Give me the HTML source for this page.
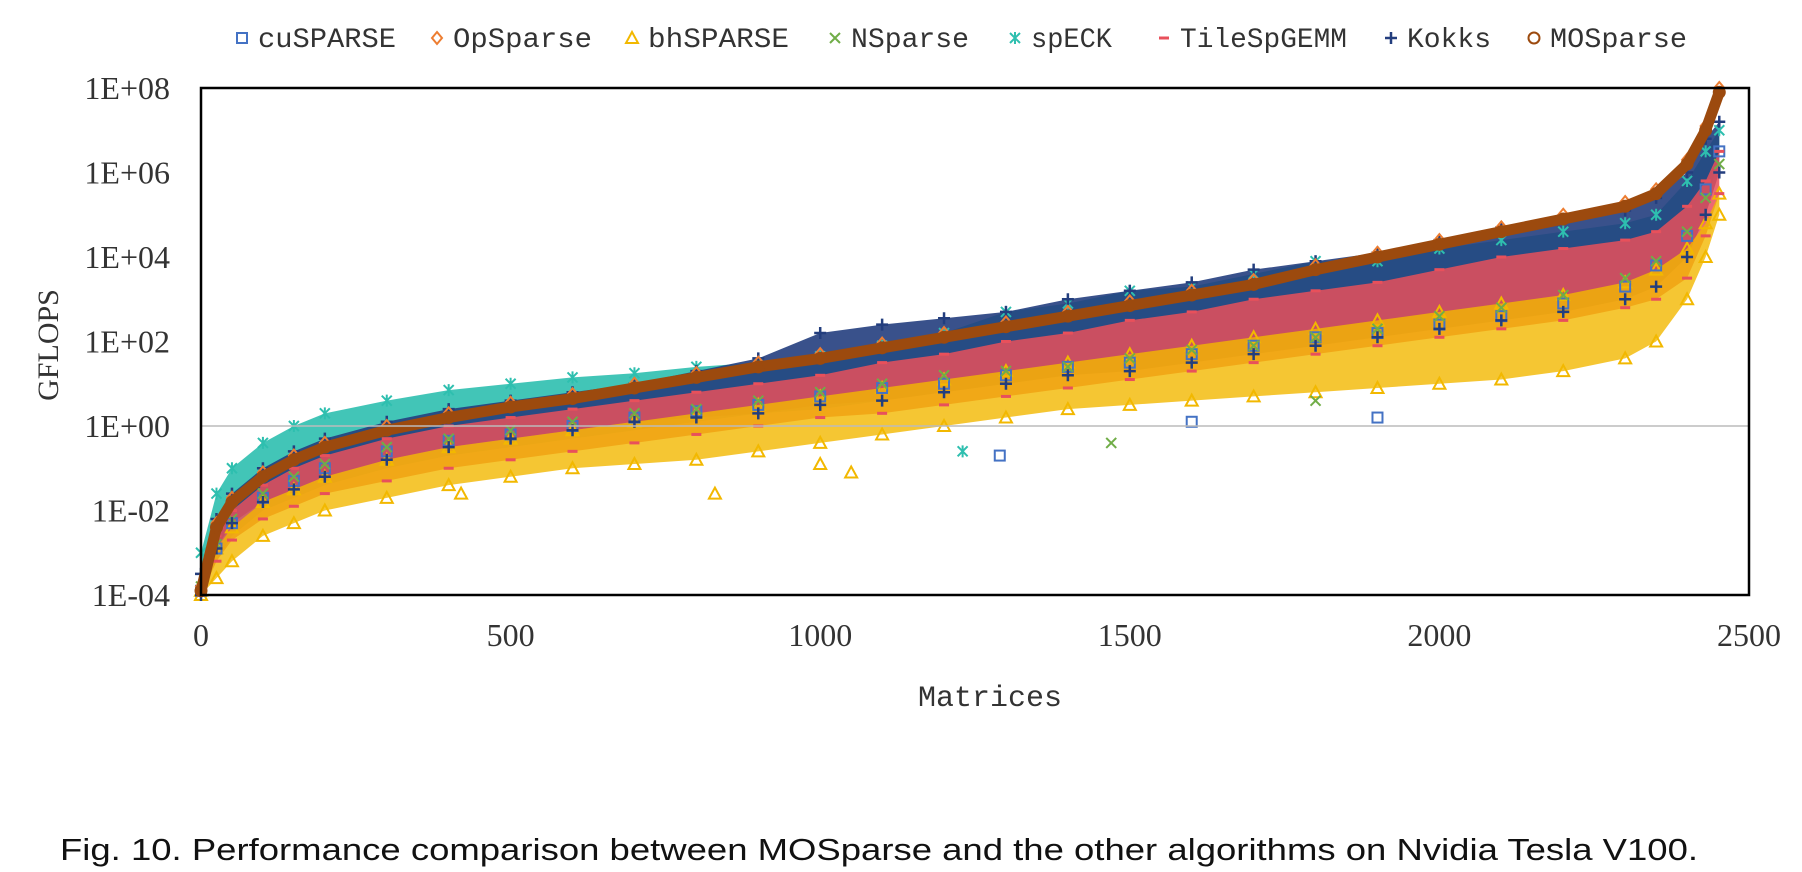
<!DOCTYPE html>
<html><head><meta charset="utf-8"><style>
html,body{margin:0;padding:0;background:#fff;width:1802px;height:872px;overflow:hidden}
svg{display:block}
</style></head><body>
<svg id="chart" width="1802" height="872" viewBox="0 0 1802 872" xmlns="http://www.w3.org/2000/svg">
<g id="bands"></g>
<g id="marks"></g>
<g id="axes"></g>
<g id="legend"></g>
<text x="990" y="706" text-anchor="middle" font-family="Liberation Mono, monospace" font-size="30" fill="#333">Matrices</text>
<text transform="translate(58,345) rotate(-90)" text-anchor="middle" font-family="Liberation Serif, serif" font-size="30" fill="#333">GFLOPS</text>
<text x="60" y="860" textLength="1638" lengthAdjust="spacingAndGlyphs" font-family="Liberation Sans, sans-serif" font-size="31" fill="#111">Fig. 10.  Performance comparison between MOSparse and the other algorithms on Nvidia Tesla V100.</text>
</svg>
<script>
// ---- data (log10 GFLOPS) ----
const xIdx = [0,25,50,100,150,200,300,400,500,600,700,800,900,1000,1100,1200,1300,1400,1500,1600,1700,1800,1900,2000,2100,2200,2300,2350,2400,2430,2452];
const mosparse = [-3.9,-2.4,-1.8,-1.2,-0.8,-0.5,-0.1,0.2,0.45,0.65,0.9,1.15,1.4,1.6,1.85,2.1,2.35,2.6,2.85,3.1,3.35,3.7,4.0,4.3,4.6,4.9,5.2,5.5,6.2,7.0,7.9];
const speckHi = [-3.0,-1.6,-1.0,-0.4,0.0,0.3,0.6,0.85,1.0,1.15,1.25,1.4,1.5,1.65,1.9,2.2,2.7,2.9,3.2,3.3,3.6,3.9,3.9,4.2,4.4,4.6,4.8,5.0,5.8,6.5,7.0];
const speckLo = [-4,-3.2,-2.6,-2.0,-1.7,-1.4,-1.0,-0.7,-0.5,-0.3,-0.1,0.1,0.3,0.4,0.6,0.8,1.0,1.2,1.4,1.6,1.8,2.0,2.2,2.3,2.5,2.7,3.0,3.3,4.0,5.0,6.5];
const kokkosHi = [-3.5,-2.2,-1.6,-1.0,-0.6,-0.3,0.1,0.4,0.6,0.8,1.0,1.3,1.6,2.2,2.4,2.55,2.7,3.0,3.2,3.4,3.7,3.9,4.1,4.4,4.7,4.9,5.1,5.4,6.0,6.8,7.2];
const kokkosLo = [-4,-2.9,-2.3,-1.8,-1.5,-1.2,-0.8,-0.5,-0.3,-0.1,0.1,0.2,0.3,0.5,0.6,0.8,1.0,1.2,1.3,1.5,1.7,1.9,2.1,2.3,2.5,2.7,3.0,3.3,4.0,5.0,6.0];
const tileHi = [-3.8,-2.6,-2.0,-1.4,-1.0,-0.7,-0.3,0.0,0.2,0.4,0.6,0.8,1.0,1.2,1.5,1.7,2.0,2.2,2.5,2.7,3.0,3.2,3.4,3.7,4.0,4.2,4.4,4.6,5.2,5.8,6.5];
const tileLo = [-4,-3.2,-2.7,-2.2,-1.9,-1.6,-1.3,-1.0,-0.8,-0.6,-0.4,-0.2,0.0,0.2,0.3,0.5,0.7,0.9,1.1,1.3,1.5,1.7,1.9,2.1,2.3,2.5,2.8,3.0,3.5,4.5,5.5];
const bhHi = [-3.9,-2.9,-2.4,-1.8,-1.5,-1.2,-0.8,-0.5,-0.3,-0.1,0.1,0.3,0.5,0.7,0.9,1.1,1.3,1.5,1.7,1.9,2.1,2.3,2.5,2.7,2.9,3.1,3.4,3.7,4.2,4.8,5.5];
const bhLo = [-4,-3.6,-3.2,-2.6,-2.3,-2.0,-1.7,-1.4,-1.2,-1.0,-0.9,-0.8,-0.6,-0.4,-0.2,0.0,0.2,0.4,0.5,0.6,0.7,0.8,0.9,1.0,1.1,1.3,1.6,2.0,3.0,4.0,5.0];
const nsparse = [-3.8,-2.8,-2.2,-1.6,-1.2,-0.9,-0.5,-0.3,-0.1,0.1,0.3,0.4,0.6,0.8,1.0,1.2,1.3,1.4,1.6,1.8,1.9,2.1,2.3,2.6,2.8,3.1,3.5,3.9,4.6,5.4,6.2];
const cusparse = [-3.9,-2.9,-2.3,-1.7,-1.3,-1.0,-0.6,-0.35,-0.2,0.0,0.2,0.35,0.5,0.7,0.9,1.0,1.2,1.4,1.5,1.7,1.9,2.1,2.2,2.4,2.6,2.9,3.3,3.8,4.5,5.6,6.5];
const opsparse = [-3.8,-2.3,-1.7,-1.1,-0.7,-0.4,0.0,0.3,0.55,0.75,1.0,1.25,1.5,1.7,1.95,2.2,2.45,2.7,2.95,3.2,3.45,3.8,4.1,4.4,4.7,5.0,5.3,5.6,6.3,7.1,8.0];
const outX = [830,1050,1290,1470,1600,420,1230,1000,1800,1900];
const outY = [-1.6,-1.1,-0.7,-0.4,0.1,-1.6,-0.6,-0.9,0.6,0.2];
const outS = ['bh','bh','cu','ns','cu','bh','sp','bh','ns','cu'];
const xTicks = [0,500,1000,1500,2000,2500];
const yTicks = [-4,-2,0,2,4,6,8];
const yTickLabels = ['1E-04','1E-02','1E+00','1E+02','1E+04','1E+06','1E+08'];
const legendNames = ['cuSPARSE','OpSparse','bhSPARSE','NSparse','spECK','TileSpGEMM','Kokks','MOSparse'];
const legendKeys = ['cu','op','bh','ns','sp','ti','ko','mo'];

const L=201,R=1749,T=88,B=595;
const X=v=>L+v*(R-L)/2500;
const Y=v=>426-v*42.25;
const NS='http://www.w3.org/2000/svg';
const col={cu:'#4472C4',op:'#ED7D31',bh:'#F2B800',ns:'#70AD47',sp:'#2EBFAF',ti:'#E8505B',ko:'#233E7E',mo:'#9C4A0E'};
function mk(tag,attrs,parent){const e=document.createElementNS(NS,tag);for(const k in attrs)e.setAttribute(k,attrs[k]);parent.appendChild(e);return e;}
const bands=document.getElementById('bands'),marks=document.getElementById('marks'),axes=document.getElementById('axes'),legend=document.getElementById('legend');

function marker(key,cx,cy,parent){
  const c=col[key];let g;
  if(key==='cu'){g=mk('rect',{x:cx-5,y:cy-5,width:10,height:10,fill:'none',stroke:c,'stroke-width':2},parent);}
  else if(key==='op'){g=mk('path',{d:`M${cx} ${cy-6}L${cx+5} ${cy}L${cx} ${cy+6}L${cx-5} ${cy}Z`,fill:'none',stroke:c,'stroke-width':2},parent);}
  else if(key==='bh'){g=mk('path',{d:`M${cx} ${cy-6}L${cx+6} ${cy+5}L${cx-6} ${cy+5}Z`,fill:'none',stroke:c,'stroke-width':2},parent);}
  else if(key==='ns'){g=mk('path',{d:`M${cx-5} ${cy-5}L${cx+5} ${cy+5}M${cx+5} ${cy-5}L${cx-5} ${cy+5}`,stroke:c,'stroke-width':2},parent);}
  else if(key==='sp'){g=mk('path',{d:`M${cx-5} ${cy-5}L${cx+5} ${cy+5}M${cx+5} ${cy-5}L${cx-5} ${cy+5}M${cx} ${cy-6}L${cx} ${cy+6}`,stroke:c,'stroke-width':2},parent);}
  else if(key==='ti'){g=mk('rect',{x:cx-5,y:cy-1.5,width:10,height:3,fill:c},parent);}
  else if(key==='ko'){g=mk('path',{d:`M${cx-6} ${cy}L${cx+6} ${cy}M${cx} ${cy-6}L${cx} ${cy+6}`,stroke:c,'stroke-width':2.5},parent);}
  else {g=mk('circle',{cx:cx,cy:cy,r:5.5,fill:'none',stroke:c,'stroke-width':2},parent);}
  return g;
}
function band(key,hi,lo,op,name){
  let d='M'+xIdx.map((v,i)=>X(v)+' '+Y(hi[i])).join('L');
  for(let i=xIdx.length-1;i>=0;i--)d+='L'+X(xIdx[i])+' '+Y(lo[i]);
  const p=mk('path',{d:d+'Z',fill:col[key],opacity:op},bands);
  
  
}
band('sp',speckHi,speckLo,0.9,'speck-band');
band('ko',kokkosHi,kokkosLo,0.9,'kokkos-band');
band('ti',tileHi,tileLo,0.85,'tilespgemm-band');
band('bh',bhHi,bhLo,0.8,'bhsparse-band');

function series(key,arr,name){
  const g=mk('g',{},marks);
  
  
  xIdx.forEach((v,i)=>marker(key,X(v),Y(arr[i]),g));
}
series('bh',bhLo,'bhsparse-points');
series('bh',bhHi,'bhsparse-points-upper');
series('cu',cusparse,'cusparse-points');
series('ns',nsparse,'nsparse-points');
series('ti',tileHi,'tilespgemm-points');
series('ti',tileLo,'tilespgemm-points-lower');
series('sp',speckHi,'speck-points');
series('ko',kokkosHi,'kokkos-points');
series('ko',kokkosLo,'kokkos-points-lower');
series('op',opsparse,'opsparse-points');
outX.forEach((v,i)=>{const m=marker(outS[i],X(v),Y(outY[i]),marks);
  
  });
const mosLine=mk('path',{d:'M'+xIdx.map((v,i)=>X(v)+' '+Y(mosparse[i])).join('L'),fill:'none',stroke:col.mo,'stroke-width':11,'stroke-linejoin':'round','stroke-linecap':'round'},marks);


series('mo',mosparse,'mosparse-points');

// axes
const grid=mk('line',{x1:L,x2:R,y1:Y(0),y2:Y(0),stroke:'#bbb','stroke-width':1.5},axes);


const frame=mk('rect',{x:L,y:T,width:R-L,height:B-T,fill:'none',stroke:'#000','stroke-width':2.5},axes);


yTicks.forEach((v,i)=>{const t=mk('text',{x:170,y:Y(v)+11,'text-anchor':'end','font-family':'Liberation Serif, serif','font-size':32,fill:'#333'},axes);t.textContent=yTickLabels[i];
  
  });
xTicks.forEach(v=>{const t=mk('text',{x:X(v),y:646,'text-anchor':'middle','font-family':'Liberation Serif, serif','font-size':32,fill:'#333'},axes);t.textContent=v;
  
  });
// legend
const lgX=[242,437,632,835,1015,1164,1391,1534];
const lgEnd=[396,592,789,969,1112,1347,1491,1687];
legendNames.forEach((n,i)=>{
  const g=mk('g',{},legend);
  
  
  marker(legendKeys[i],lgX[i],38,g);
  const t=mk('text',{x:lgX[i]+16,y:47,textLength:lgEnd[i]-lgX[i]-16,lengthAdjust:'spacingAndGlyphs','font-family':'Liberation Mono, monospace','font-size':28,fill:'#333'},g);
  t.textContent=n;
});
</script>
</body></html>
